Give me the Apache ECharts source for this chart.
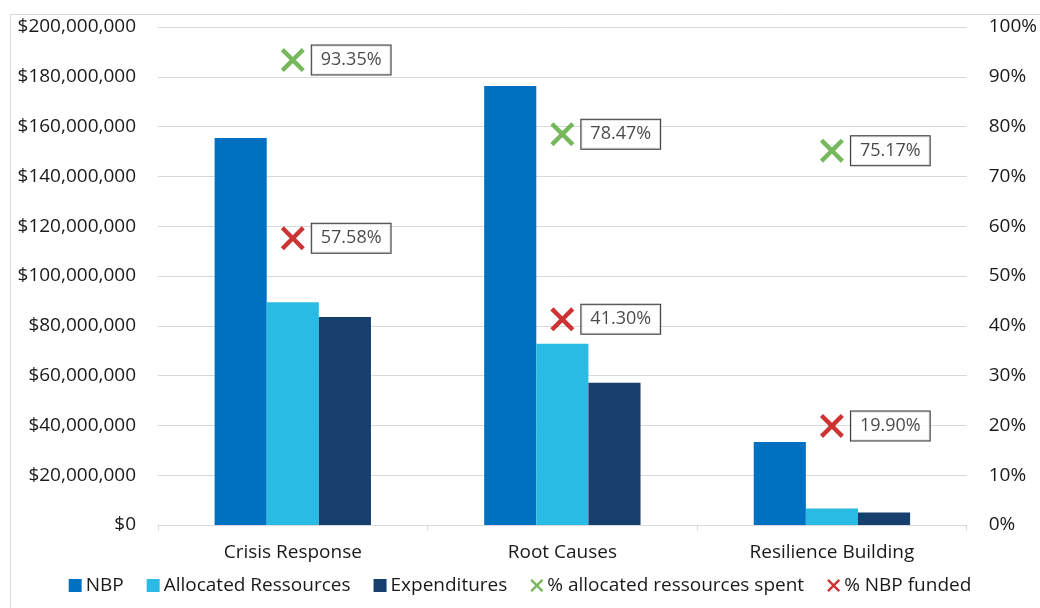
<!DOCTYPE html>
<html>
<head>
<meta charset="utf-8">
<script src="https://cdn.jsdelivr.net/npm/echarts@6/dist/echarts.min.js"></script>
<style>
  html, body { margin: 0; padding: 0; background: #fff; }
  #chart { width: 1040px; height: 608px; }
</style>
</head>
<body>
<div id="chart"></div>
<script>
// Programme areas
const categories = ['Crisis Response', 'Root Causes', 'Resilience Building'];

// Funding amounts in USD
const nbp = [155400000, 176300000, 33300000];
const allocated = [89500000, 72800000, 6630000];
const expenditures = [83550000, 57130000, 4980000];

// Ratios in percent
const pctAllocatedSpent = [93.35, 78.47, 75.17];
const pctNbpFunded = [57.58, 41.30, 19.90];

// Axis ticks
const moneyMax = 200000000;
const moneyStep = 20000000;
const pctMax = 100;
const pctStep = 10;

const FONT = '"Open Sans", "Noto Sans", sans-serif';
const FS = 19;
const TEXT = '#1a1a1a';
const GRID = '#d9d9d9';
const CROSS = 'path://M0,2.6 L2.6,0 L10,7.4 L17.4,0 L20,2.6 L12.6,10 L20,17.4 L17.4,20 L10,12.6 L2.6,20 L0,17.4 L7.4,10 Z';

const boxLabel = {
  show: true,
  position: 'right',
  distance: 7,
  formatter: p => p.value.toFixed(2) + '%',
  fontFamily: FONT,
  fontSize: 18,
  color: TEXT,
  backgroundColor: '#fff',
  borderColor: '#000',
  borderWidth: 1,
  padding: [6, 9, 5, 9]
};

const chart = echarts.init(document.getElementById('chart'), null, { renderer: 'canvas' });

chart.setOption({
  animation: false,
  textStyle: { fontFamily: FONT },
  graphic: [{
    type: 'rect',
    shape: { x: 10.5, y: 14.5, width: 1100, height: 700 },
    style: { fill: 'none', stroke: GRID, lineWidth: 1 },
    silent: true, z: -1
  }],
  grid: { left: 158, right: 72, top: 27, bottom: 83 },
  legend: {
    left: 'center',
    top: 571,
    itemWidth: 13,
    itemHeight: 13,
    itemGap: 23,
    textStyle: { fontFamily: FONT, fontSize: FS, color: TEXT, padding: [0, 0, 0, -1] },
    data: [
      { name: 'NBP', icon: 'rect' },
      { name: 'Allocated Ressources', icon: 'rect' },
      { name: 'Expenditures', icon: 'rect' },
      { name: '% allocated ressources spent', icon: CROSS },
      { name: '% NBP funded', icon: CROSS }
    ]
  },
  xAxis: {
    type: 'category',
    data: categories,
    boundaryGap: true,
    axisLine: { lineStyle: { color: GRID, width: 1 } },
    axisTick: { show: true, length: 5, lineStyle: { color: GRID } },
    axisLabel: { fontFamily: FONT, fontSize: FS, color: TEXT, margin: 18 }
  },
  yAxis: [{
    type: 'value',
    min: 0, max: moneyMax, interval: moneyStep,
    axisLine: { show: false },
    axisTick: { show: false },
    splitLine: { lineStyle: { color: GRID, width: 1 } },
    axisLabel: {
      fontFamily: FONT, fontSize: FS, color: TEXT, margin: 22,
      formatter: v => '$' + v.toLocaleString('en-US')
    }
  }, {
    type: 'value',
    min: 0, max: pctMax, interval: pctStep,
    axisLine: { show: false },
    axisTick: { show: false },
    splitLine: { show: false },
    axisLabel: {
      fontFamily: FONT, fontSize: FS, color: TEXT, margin: 22,
      formatter: '{value}%'
    }
  }],
  series: [
    {
      name: 'NBP', type: 'bar', data: nbp,
      barGap: '0%', barCategoryGap: '42%',
      itemStyle: { color: '#0070c0' }
    },
    {
      name: 'Allocated Ressources', type: 'bar', data: allocated,
      itemStyle: { color: '#29bbe3' }
    },
    {
      name: 'Expenditures', type: 'bar', data: expenditures,
      itemStyle: { color: '#173f6d' }
    },
    {
      name: '% allocated ressources spent', type: 'scatter', yAxisIndex: 1,
      data: pctAllocatedSpent,
      symbol: CROSS, symbolSize: 24,
      itemStyle: { color: '#54a632' },
      label: boxLabel, z: 5
    },
    {
      name: '% NBP funded', type: 'scatter', yAxisIndex: 1,
      data: pctNbpFunded,
      symbol: CROSS, symbolSize: 24,
      itemStyle: { color: '#c00000' },
      label: boxLabel, z: 5
    }
  ]
});
</script>
</body>
</html>
